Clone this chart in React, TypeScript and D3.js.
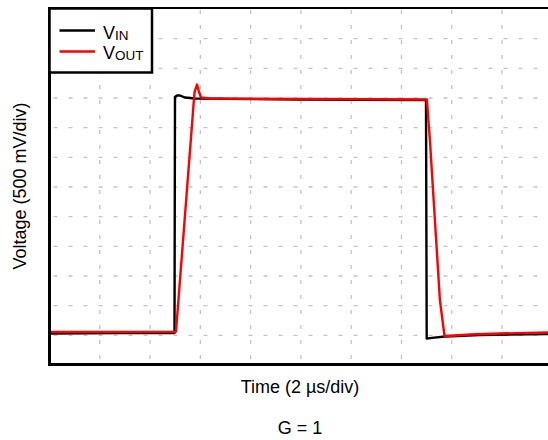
import React from "react";
import * as d3 from "d3";

// time in µs (2 µs/div), voltage in V (500 mV/div)
const vinT = [0, 2.8, 4.972, 4.992, 5.072, 5.191, 5.39, 5.788, 9.965, 14.976, 15.004, 15.215, 15.732, 17.124, 20];
const vinV = [0.531, 0.539, 0.539, 4.516, 4.542, 4.542, 4.508, 4.491, 4.474, 4.466, 0.447, 0.458, 0.48, 0.506, 0.522];

const voutT = [0, 4.952, 5.032, 5.768, 5.867, 5.947, 6.026, 6.384, 9.965, 15.012, 15.131, 15.529, 15.712, 16.13, 16.726, 17.92, 20];
const voutV = [0.556, 0.559, 0.565, 4.601, 4.727, 4.601, 4.508, 4.491, 4.483, 4.474, 3.792, 1.095, 0.489, 0.497, 0.514, 0.531, 0.548];

const xGridTicks = [2, 4, 6, 8, 10, 12, 14, 16, 18];
const yGridTicks = [0.5, 1, 1.5, 2, 2.5, 3, 3.5, 4, 4.5, 5, 5.5];

const W = 548;
const H = 440;
const FONT = "'Liberation Sans', Arial, sans-serif";

export default function App() {
  const x = d3.scaleLinear().domain([0, 20]).range([49.5, 552.3]);
  const y = d3.scaleLinear().domain([0, 6]).range([365, 9]);

  const line = d3
    .line<[number, number]>()
    .x((d) => x(d[0]))
    .y((d) => y(d[1]));

  const vin = vinT.map((t, i) => [t, vinV[i]] as [number, number]);
  const vout = voutT.map((t, i) => [t, voutV[i]] as [number, number]);

  const gridColor = "#c4c4c4";

  return (
    <svg
      width={W}
      height={H}
      style={{ position: "fixed", left: 0, top: 0, background: "#fff" }}
      fontFamily={FONT}
    >
      <rect x={0} y={0} width={W} height={H} fill="#fff" />
      {xGridTicks.map((t) => (
        <line
          key={"vx" + t}
          x1={x(t)}
          x2={x(t)}
          y1={y(6)}
          y2={y(0)}
          stroke={gridColor}
          strokeWidth={1.3}
          strokeDasharray="4 11"
          strokeDashoffset={-1}
        />
      ))}
      {yGridTicks.map((v) => (
        <line
          key={"hy" + v}
          x1={x(0)}
          x2={x(20)}
          y1={y(v)}
          y2={y(v)}
          stroke={gridColor}
          strokeWidth={1.3}
          strokeDasharray="4 11"
          strokeDashoffset={-4}
        />
      ))}
      <path d={line(vin) || ""} fill="none" stroke="#000" strokeWidth={2.4} strokeLinejoin="round" />
      <path d={line(vout) || ""} fill="none" stroke="#ff0000" strokeWidth={2.4} strokeLinejoin="round" />

      {/* frame */}
      <line x1={x(0)} x2={x(20)} y1={8} y2={8} stroke="#000" strokeWidth={2} />
      <line x1={x(0)} x2={x(0)} y1={7} y2={366} stroke="#000" strokeWidth={3} />
      <line x1={x(0)} x2={x(20)} y1={364.5} y2={364.5} stroke="#000" strokeWidth={3} />

      {/* legend */}
      <rect x={49.5} y={8.5} width={102.5} height={64} fill="#fff" stroke="#000" strokeWidth={2.5} />
      <line x1={59.5} x2={95} y1={30.5} y2={30.5} stroke="#000" strokeWidth={2.4} />
      <line x1={59.5} x2={95} y1={51.5} y2={51.5} stroke="#ff0000" strokeWidth={2.4} />
      <text x={103} y={39} fontSize={18} fill="#000">
        V<tspan fontSize={13.5} dy={1}>IN</tspan>
      </text>
      <text x={103} y={59} fontSize={18} fill="#000">
        V<tspan fontSize={13.5} dy={1}>OUT</tspan>
      </text>

      {/* axis titles */}
      <text x={300} y={393} fontSize={18} textAnchor="middle" fill="#000">
        Time (2 µs/div)
      </text>
      <text
        transform="translate(26,186) rotate(-90)"
        fontSize={18}
        textAnchor="middle"
        fill="#000"
      >
        Voltage (500 mV/div)
      </text>
      <text x={300} y={434} fontSize={18} textAnchor="middle" fill="#000">
        G = 1
      </text>
    </svg>
  );
}
